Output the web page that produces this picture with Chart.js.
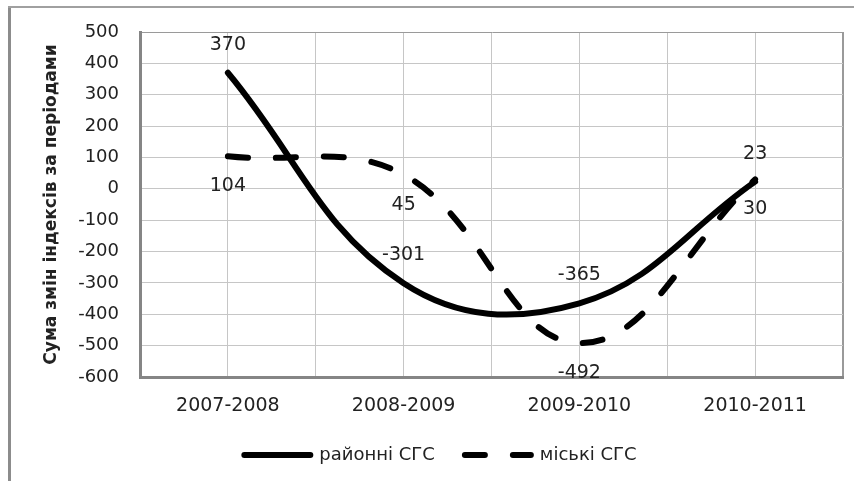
<!DOCTYPE html>
<html>
<head>
<meta charset="utf-8">
<script src="https://cdn.jsdelivr.net/npm/chart.js@4.4.0/dist/chart.umd.min.js"></script>
<style>
  html, body { margin: 0; padding: 0; background: #fff; }
</style>
</head>
<body>
<canvas id="chart" width="854" height="481"></canvas>
<script>
// періоди та суми змін індексів
const periods = ['2007-2008', '2008-2009', '2009-2010', '2010-2011'];
const rayonni = [370, -301, -365, 23];
const miski = [104, 45, -492, 30];
const yMin = -600, yMax = 500, yStep = 100;

const FONT = '"DejaVu Sans", sans-serif';

// підписи значень біля точок
const valueLabels = {
  id: 'valueLabels',
  afterDatasetsDraw(chart) {
    const ctx = chart.ctx;
    const xs = chart.scales.x, ys = chart.scales.y;
    ctx.save();
    ctx.font = '19px ' + FONT;
    ctx.fillStyle = '#222';
    ctx.textAlign = 'center';
    ctx.textBaseline = 'middle';
    chart.data.datasets.forEach(ds => {
      ds.data.forEach(p => {
        ctx.fillText(String(p.y), xs.getPixelForValue(p.x), ys.getPixelForValue(p.y) + ds.labelShift);
      });
    });
    ctx.restore();
  }
};

// рамка навколо діаграми (обрізана справа і знизу)
const frame = {
  id: 'frame',
  afterDraw(chart) {
    const ctx = chart.ctx;
    ctx.save();
    ctx.strokeStyle = '#8c8c8c';
    ctx.lineWidth = 3;
    ctx.beginPath(); ctx.moveTo(9.5, 6); ctx.lineTo(9.5, chart.height); ctx.stroke();
    ctx.strokeStyle = '#a0a0a0';
    ctx.lineWidth = 2;
    ctx.beginPath(); ctx.moveTo(8, 7); ctx.lineTo(chart.width, 7); ctx.stroke();
    ctx.restore();
  }
};

const ctx = document.getElementById('chart').getContext('2d');
new Chart(ctx, {
  type: 'line',
  data: {
    datasets: [{
      label: 'районні СГС',
      data: rayonni.map((v, i) => ({ x: i + 1, y: v })),
      borderColor: '#000',
      backgroundColor: '#000',
      borderWidth: 6,
      borderCapStyle: 'round',
      tension: 0.4,
      pointRadius: 0,
      labelShift: -28
    }, {
      label: 'міські СГС',
      data: miski.map((v, i) => ({ x: i + 1, y: v })),
      borderColor: '#000',
      backgroundColor: '#000',
      borderWidth: 6,
      borderDash: [20, 28],
      borderCapStyle: 'round',
      tension: 0.4,
      pointRadius: 0,
      labelShift: 30
    }]
  },
  options: {
    responsive: false,
    animation: false,
    layout: { padding: { left: 38, right: 11, top: 32, bottom: 7 } },
    plugins: {
      legend: {
        position: 'bottom',
        labels: {
          font: { family: FONT, size: 18 },
          color: '#222',
          usePointStyle: true,
          pointStyle: 'line',
          pointStyleWidth: 66,
          padding: 30,
          generateLabels: chart => {
            const items = Chart.defaults.plugins.legend.labels.generateLabels(chart);
            items.forEach(it => {
              const ds = chart.data.datasets[it.datasetIndex];
              it.lineDash = ds.borderDash || [];
              it.lineWidth = ds.borderWidth;
              it.lineCap = 'round';
              it.strokeStyle = ds.borderColor;
            });
            return items;
          }
        }
      },
      tooltip: { enabled: false }
    },
    scales: {
      x: {
        type: 'linear',
        min: 0.5,
        max: 4.5,
        afterFit: s => { s.height = 39; },
        ticks: {
          stepSize: 0.5,
          autoSkip: false,
          maxRotation: 0,
          padding: 0,
          color: '#222',
          font: { family: FONT, size: 19, lineHeight: '59px' },
          callback: v => Number.isInteger(v) ? periods[v - 1] : ''
        },
        grid: {
          drawTicks: false,
          color: c => c.tick && c.tick.value === 4.5 ? '#9a9a9a' : '#c6c6c6',
          lineWidth: c => c.tick && c.tick.value === 4.5 ? 2 : 1
        },
        border: { color: '#858585', width: 3 }
      },
      y: {
        min: yMin,
        max: yMax,
        afterFit: s => { s.width = 102; },
        ticks: {
          stepSize: yStep,
          padding: 21,
          color: '#222',
          font: { family: FONT, size: 18 }
        },
        grid: {
          drawTicks: false,
          color: c => c.tick && c.tick.value === yMax ? '#9a9a9a' : '#c6c6c6'
        },
        border: { color: '#858585', width: 3 },
        title: {
          display: true,
          text: 'Сума змін індексів за періодами',
          color: '#222',
          font: { family: FONT, size: 17, weight: 'bold' },
          padding: { top: 3, bottom: 0 }
        }
      }
    }
  },
  plugins: [valueLabels, frame]
});
</script>
</body>
</html>
